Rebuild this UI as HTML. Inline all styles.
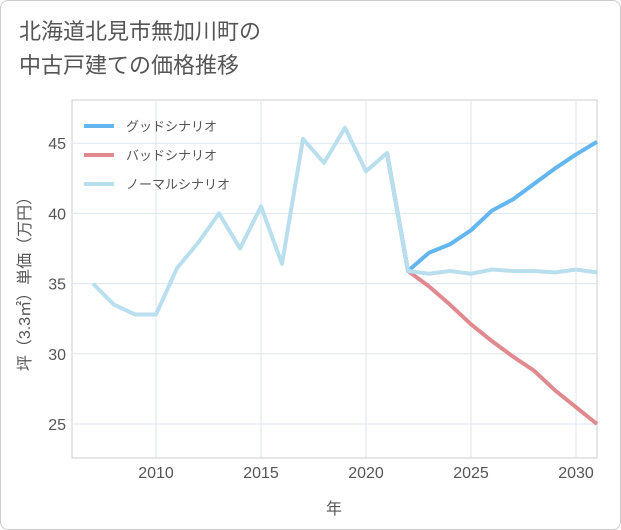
<!DOCTYPE html>
<html><head><meta charset="utf-8">
<style>
body{margin:0;background:#fff;font-family:"Liberation Sans","Noto Sans CJK JP",sans-serif;}
#wrap{position:relative;width:619px;height:528px;border:1px solid #ccc;border-radius:8px;overflow:hidden;background:#fff;}
#title{position:absolute;left:18px;top:14px;font-size:22px;line-height:34px;color:#555;}
</style></head><body>
<div id="wrap">
<div id="title">北海道北見市無加川町の<br>中古戸建ての価格推移</div>
<svg id="chart" width="621" height="530" style="position:absolute;left:-1px;top:-1px"></svg>
</div>
<script>
const years=[2007,2008,2009,2010,2011,2012,2013,2014,2015,2016,2017,2018,2019,2020,2021,2022,2023,2024,2025,2026,2027,2028,2029,2030,2031];
const normalVals=[35.0,33.5,32.8,32.8,36.1,37.9,40.0,37.5,40.5,36.4,45.3,43.6,46.1,43.0,44.3,35.9,35.7,35.9,35.7,36.0,35.9,35.9,35.8,36.0,35.8];
const forecastYears=[2021,2022,2023,2024,2025,2026,2027,2028,2029,2030,2031];
const goodVals=[44.3,35.9,37.2,37.8,38.8,40.2,41.0,42.1,43.2,44.2,45.1];
const badVals=[44.3,35.9,34.8,33.5,32.1,30.9,29.8,28.8,27.4,26.2,25.0];
const xTicks=[2010,2015,2020,2025,2030];
const yTicks=[25,30,35,40,45];
const seriesNames=["グッドシナリオ","バッドシナリオ","ノーマルシナリオ"];
const NS="http://www.w3.org/2000/svg";
const svg=document.getElementById('chart');
const L=72,R=597,T=100,B=458;
const X=y=>L+(y-2006)*(R-L)/25;
const Y=v=>424-(v-25)*70.2/5;
function mk(t,a){const e=document.createElementNS(NS,t);for(const k in a)e.setAttribute(k,a[k]);svg.appendChild(e);return e;}
let e=mk('rect',{x:L,y:T,width:R-L,height:B-T,fill:'none',stroke:'#ccc'});


xTicks.forEach(t=>{let g=mk('line',{x1:X(t),x2:X(t),y1:T,y2:B,stroke:'#dde6ee'});


let l=mk('text',{x:X(t),y:478,'text-anchor':'middle','font-size':16,fill:'#555'});l.textContent=t;

});
yTicks.forEach(t=>{let g=mk('line',{x1:L,x2:R,y1:Y(t),y2:Y(t),stroke:'#dde6ee'});


let l=mk('text',{x:66,y:Y(t)+6,'text-anchor':'end','font-size':16,fill:'#555'});l.textContent=t;

});
function line(xs,vs,c,name){let p=mk('polyline',{points:xs.map((x,i)=>X(x)+','+Y(vs[i])).join(' '),fill:'none',stroke:c,'stroke-width':4,'stroke-linejoin':'round'});

}
line(forecastYears,badVals,'#e08a90','bad-scenario-line');
line(forecastYears,goodVals,'#63b6ef','good-scenario-line');
line(years,normalVals,'#b9dfee','normal-scenario-line');
const cols=['#63b6ef','#e08a90','#b9dfee'];
seriesNames.forEach((n,i)=>{let y=126+i*29;
let s=mk('line',{x1:84,x2:114,y1:y,y2:y,stroke:cols[i],'stroke-width':4});


let t=mk('text',{x:126,y:y+5,'font-size':13,fill:'#555'});t.textContent=n;

});
let xt=mk('text',{x:334,y:514,'text-anchor':'middle','font-size':16,fill:'#555'});xt.textContent='年';


let yt=mk('text',{x:30,y:280,'text-anchor':'middle','font-size':16,fill:'#555',transform:'rotate(-90 30 280)'});yt.textContent='坪（3.3㎡）単価（万円）';


</script>
</body></html>
